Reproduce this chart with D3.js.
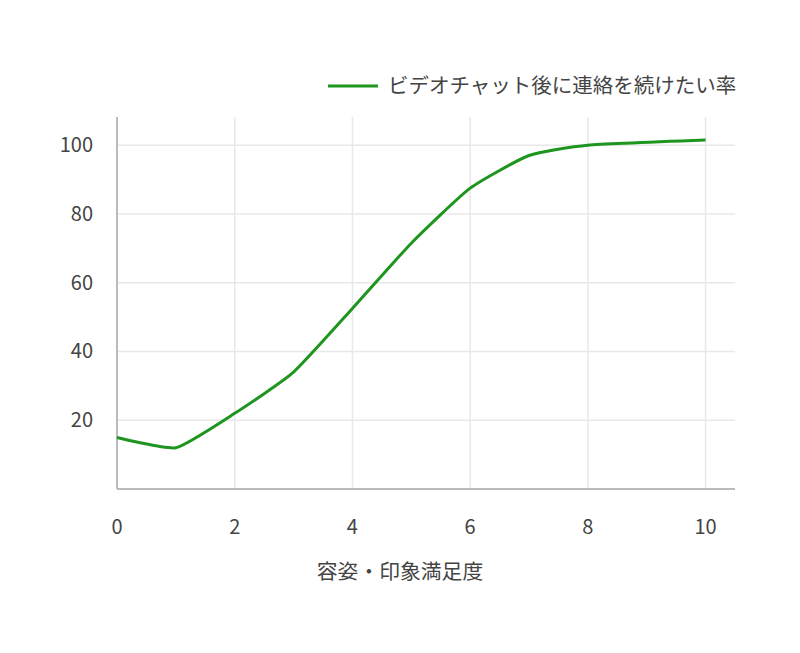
<!DOCTYPE html>
<html><head><meta charset="utf-8">
<script src="https://cdn.jsdelivr.net/npm/d3@7"></script>
<style>body{margin:0;background:#fff}svg{display:block}text{font-family:"Noto Sans CJK JP","Noto Sans",sans-serif;fill:#444}</style>
</head><body><svg id="c" width="800" height="653"></svg>
<script>
const xValues=[0,1,2,3,4,5,6,7,8,10];
const yValues=[15,12,22,34,52.5,71.5,87.5,97,100,101.5];
const xTicks=[0,2,4,6,8,10];
const yTicks=[20,40,60,80,100];
const seriesName="ビデオチャット後に連絡を続けたい率";
const xTitle="容姿・印象満足度";

const svg=d3.select("#c");
const L=117,R=735,T=117,B=489;
const x=d3.scaleLinear().domain([0,10.5]).range([L,R]);
const y=d3.scaleLinear().domain([0,108.2]).range([B,T]);
const g=svg.append("g");
// grid
g.selectAll(".gy").data(yTicks).join("line").attr("x1",L).attr("x2",R).attr("y1",d=>y(d)).attr("y2",d=>y(d)).attr("stroke","#e8e8e8").attr("stroke-width",1.5);
g.selectAll(".gx").data(xTicks.filter(d=>d>0)).join("line").attr("y1",T).attr("y2",B).attr("x1",d=>x(d)).attr("x2",d=>x(d)).attr("stroke","#e8e8e8").attr("stroke-width",1.5);
// axes
g.append("line").attr("x1",L).attr("x2",L).attr("y1",T).attr("y2",B).attr("stroke","#bbb").attr("stroke-width",2);
g.append("line").attr("x1",L).attr("x2",R).attr("y1",B).attr("y2",B).attr("stroke","#bbb").attr("stroke-width",2);
g.selectAll(".ty").data(yTicks).join("text").attr("x",93).attr("y",d=>y(d)).attr("dy","0.35em").attr("text-anchor","end").attr("font-size",20).text(d=>d);
g.selectAll(".tx").data(xTicks).join("text").attr("x",d=>x(d)).attr("y",527).attr("dy","0.35em").attr("text-anchor","middle").attr("font-size",20).text(d=>d);
svg.append("text").attr("x",400).attr("y",572).attr("dy","0.35em").attr("text-anchor","middle").attr("font-size",20.8).text(xTitle);
// line
const data=xValues.map((v,i)=>[v,yValues[i]]);
g.append("path").datum(data).attr("fill","none").attr("stroke","#1e951e").attr("stroke-width",3)
 .attr("d",d3.line().x(d=>x(d[0])).y(d=>y(d[1])).curve(d3.curveCardinal.tension(0.5)));
// legend
svg.append("line").attr("x1",328).attr("x2",378).attr("y1",86).attr("y2",86).attr("stroke","#1e951e").attr("stroke-width",3);
svg.append("text").attr("x",388).attr("y",86).attr("dy","0.35em").attr("font-size",20.5).text(seriesName);
</script></body></html>
